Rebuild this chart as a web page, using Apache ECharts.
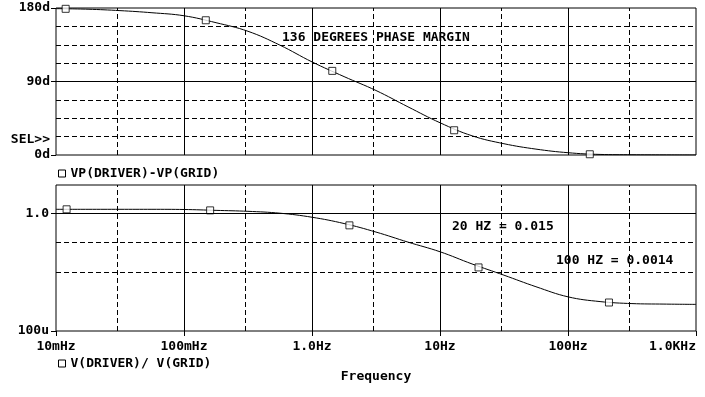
<!DOCTYPE html>
<html>
<head>
<meta charset="utf-8">
<script src="https://cdn.jsdelivr.net/npm/echarts@6/dist/echarts.min.js"></script>
<style>
html, body { margin: 0; padding: 0; background: #fff; }
#main { width: 705px; height: 397px; }
</style>
</head>
<body>
<div id="main"></div>
<script>
var freq = [0.01, 0.0178, 0.0316, 0.0562, 0.1, 0.178, 0.316, 0.562, 1.0, 1.78, 3.16, 5.62, 10, 17.8, 31.6, 56.2, 100, 178, 316, 562, 1000];

// phase curve, VP(DRIVER)-VP(GRID), degrees
var phaseDeg = [179.2, 178.5, 176.8, 174.2, 170.5, 162, 151.5, 134.5, 114, 96, 79, 59, 39.5, 23.5, 13.8, 7.2, 2.8, 0.7, 0.3, 0.1, 0];
var phaseMarkFreq = [0.0119, 0.148, 1.44, 12.9, 148];
var phaseMarkDeg  = [179, 165, 103, 30.3, 0.9];

// gain curve, V(DRIVER)/ V(GRID)
var gainVal = [1.37, 1.37, 1.37, 1.37, 1.35, 1.26, 1.17, 1.01, 0.736, 0.45, 0.231, 0.105, 0.0494, 0.019, 0.0079, 0.0032, 0.00145, 0.001, 0.000855, 0.000822, 0.000803];
var gainMarkFreq = [0.0121, 0.16, 1.96, 20, 209];
var gainMarkVal  = [1.37, 1.26, 0.39, 0.0145, 0.00093];

// axes and grid
var freqLabels = ['10mHz', '100mHz', '1.0Hz', '10Hz', '100Hz', '1.0KHz'];
var freqMajor = [0.1, 1, 10, 100];
var freqMinor = [0.03, 0.3, 3, 30, 300];
var phaseTicks = [0, 90, 180];
var phaseMajor = [90];
var phaseMinor = [22.5, 45, 67.5, 112.5, 135, 157.5];
var gainTicks = [0.0001, 1];
var gainTickLabels = ['100u', '1.0'];
var gainMajor = [1];
var gainMinor = [0.001, 0.01, 0.1];

var font = '"DejaVu Sans Mono", "Liberation Mono", monospace';
var txt = { fontFamily: font, fontSize: 13, fontWeight: 'bold', color: '#000' };

function pairs(xs, ys) {
    var res = [];
    for (var i = 0; i < xs.length; i++) res.push([xs[i], ys[i]]);
    return res;
}

function gridLines(xMajor, xMinor, yMajor, yMinor) {
    var res = [];
    var solid = { color: '#000', width: 1, type: 'solid' };
    var dash = { color: '#000', width: 1, type: [5, 3] };
    xMajor.forEach(function (v) { res.push({ xAxis: v, lineStyle: solid }); });
    xMinor.forEach(function (v) { res.push({ xAxis: v, lineStyle: dash }); });
    yMajor.forEach(function (v) { res.push({ yAxis: v, lineStyle: solid }); });
    yMinor.forEach(function (v) { res.push({ yAxis: v, lineStyle: dash }); });
    return res;
}

var chart = echarts.init(document.getElementById('main'), null, { renderer: 'canvas' });

var option = {
    animation: false,
    backgroundColor: '#fff',
    grid: [
        { left: 56, right: 9, top: 8, height: 147, show: true, borderColor: '#000', borderWidth: 1 },
        { left: 56, right: 9, top: 185, height: 146, show: true, borderColor: '#000', borderWidth: 1 }
    ],
    legend: [
        {
            left: 58, top: 167, padding: 0, itemWidth: 7, itemHeight: 7, textStyle: txt,
            data: [{ name: 'VP(DRIVER)-VP(GRID)', icon: 'rect', itemStyle: { color: '#fff', borderColor: '#000', borderWidth: 1 } }]
        },
        {
            left: 58, top: 357, padding: 0, itemWidth: 7, itemHeight: 7, textStyle: txt,
            data: [{ name: 'V(DRIVER)/ V(GRID)', icon: 'rect', itemStyle: { color: '#fff', borderColor: '#000', borderWidth: 1 } }]
        }
    ],
    xAxis: [
        {
            gridIndex: 0, type: 'log', logBase: 10, min: 0.01, max: 1000,
            axisLine: { show: false }, axisTick: { show: false },
            axisLabel: { show: false }, splitLine: { show: false }
        },
        {
            gridIndex: 1, type: 'log', logBase: 10, min: 0.01, max: 1000,
            axisLine: { show: false },
            axisTick: { show: true, length: 5, lineStyle: { color: '#000' } },
            axisLabel: {
                margin: 9, fontFamily: font, fontSize: 13, fontWeight: 'bold', color: '#000',
                alignMaxLabel: 'right',
                formatter: function (v) {
                    return freqLabels[Math.round(Math.log10(v)) + 2];
                }
            },
            splitLine: { show: false },
            name: 'Frequency', nameLocation: 'middle', nameGap: 39,
            nameTextStyle: txt
        }
    ],
    yAxis: [
        {
            gridIndex: 0, type: 'value', min: 0, max: 180, interval: 90,
            axisLine: { show: false },
            axisTick: { show: true, length: 5, lineStyle: { color: '#000' } },
            axisLabel: {
                margin: 6, fontFamily: font, fontSize: 13, fontWeight: 'bold', color: '#000',
                formatter: function (v) { return phaseTicks.indexOf(v) >= 0 ? v + 'd' : ''; }
            },
            splitLine: { show: false }
        },
        {
            gridIndex: 1, type: 'log', logBase: 10, min: 0.0001, max: 9.18,
            axisLine: { show: false },
            axisTick: { show: true, length: 5, lineStyle: { color: '#000' }, customValues: gainTicks },
            axisLabel: {
                margin: 7, fontFamily: font, fontSize: 13, fontWeight: 'bold', color: '#000',
                customValues: gainTicks,
                formatter: function (v) {
                    for (var i = 0; i < gainTicks.length; i++) {
                        if (Math.abs(Math.log10(v) - Math.log10(gainTicks[i])) < 0.01) return gainTickLabels[i];
                    }
                    return '';
                }
            },
            splitLine: { show: false }
        }
    ],
    series: [
        {
            name: 'VP(DRIVER)-VP(GRID)', type: 'line', xAxisIndex: 0, yAxisIndex: 0,
            data: pairs(freq, phaseDeg),
            smooth: 0.4, showSymbol: false, silent: true,
            lineStyle: { color: '#000', width: 1 },
            markLine: {
                silent: true, symbol: 'none', label: { show: false },
                data: gridLines(freqMajor, freqMinor, phaseMajor, phaseMinor)
            },
            z: 3
        },
        {
            name: 'VP(DRIVER)-VP(GRID)', type: 'scatter', xAxisIndex: 0, yAxisIndex: 0,
            data: pairs(phaseMarkFreq, phaseMarkDeg),
            symbol: 'rect', symbolSize: 7, silent: true,
            itemStyle: { color: '#fff', borderColor: '#000', borderWidth: 1 },
            z: 4
        },
        {
            name: 'V(DRIVER)/ V(GRID)', type: 'line', xAxisIndex: 1, yAxisIndex: 1,
            data: pairs(freq, gainVal),
            smooth: 0.4, showSymbol: false, silent: true,
            lineStyle: { color: '#000', width: 1 },
            markLine: {
                silent: true, symbol: 'none', label: { show: false },
                data: gridLines(freqMajor, freqMinor, gainMajor, gainMinor)
            },
            z: 3
        },
        {
            name: 'V(DRIVER)/ V(GRID)', type: 'scatter', xAxisIndex: 1, yAxisIndex: 1,
            data: pairs(gainMarkFreq, gainMarkVal),
            symbol: 'rect', symbolSize: 7, silent: true,
            itemStyle: { color: '#fff', borderColor: '#000', borderWidth: 1 },
            z: 4
        }
    ],
    graphic: [
        { type: 'text', left: 282, top: 31, z: 10, style: { text: '136 DEGREES PHASE MARGIN', font: 'bold 13px ' + font, fill: '#000' } },
        { type: 'text', left: 452, top: 220, z: 10, style: { text: '20 HZ = 0.015', font: 'bold 13px ' + font, fill: '#000' } },
        { type: 'text', left: 556, top: 254, z: 10, style: { text: '100 HZ = 0.0014', font: 'bold 13px ' + font, fill: '#000' } },
        { type: 'text', right: 655, top: 133, z: 10, style: { text: 'SEL>>', font: 'bold 13px ' + font, fill: '#000' } }
    ]
};

chart.setOption(option);
</script>
</body>
</html>
